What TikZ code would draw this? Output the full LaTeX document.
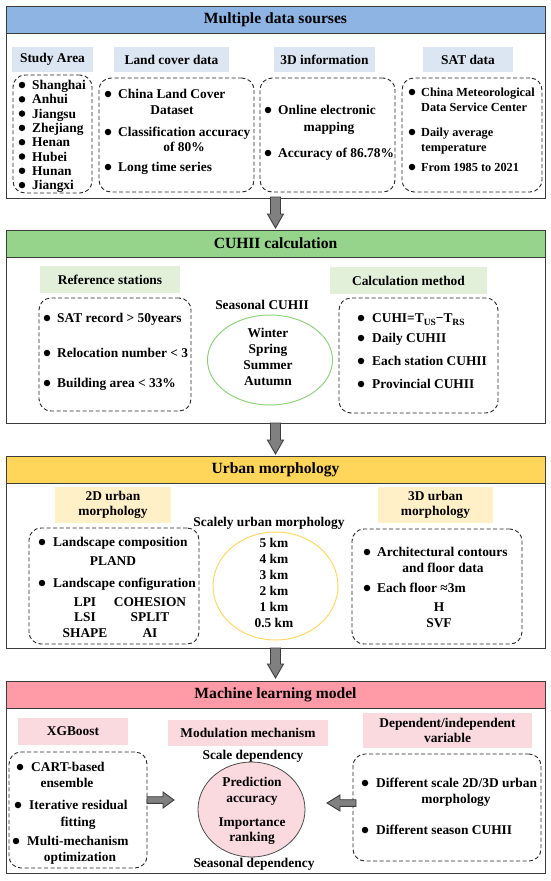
\documentclass[tikz,border=0pt]{standalone}
\usepackage{fontspec}
\setmainfont{Liberation Serif}
\usetikzlibrary{shapes.geometric,calc}
\definecolor{hdrblue}{RGB}{142,180,227}
\definecolor{subblue}{RGB}{220,230,242}
\definecolor{hdrgreen}{RGB}{150,212,140}
\definecolor{subgreen}{RGB}{226,240,217}
\definecolor{hdryellow}{RGB}{255,214,89}
\definecolor{subyellow}{RGB}{255,240,200}
\definecolor{hdrpink}{RGB}{255,154,166}
\definecolor{subpink}{RGB}{250,218,222}
\definecolor{ellgreen}{RGB}{146,208,128}
\definecolor{ellyellow}{RGB}{255,217,102}
\definecolor{circpink}{RGB}{250,218,222}
\definecolor{edge}{RGB}{60,60,60}
\definecolor{arrowfill}{RGB}{128,128,128}
\newcommand\boxnode[7]{%
  \pgfmathsetmacro\myrw{#5-#3}\pgfmathsetmacro\myrh{#6-#4}%
  \pgfmathsetmacro\myrcx{(#3+#5)/2}\pgfmathsetmacro\myrcy{(#4+#6)/2}%
  \node[#1, minimum width=\myrw pt, minimum height=\myrh pt] (#2) at (\myrcx,\myrcy) {#7};}
\newcommand\tlft[4]{\node[txt, anchor=base west] (#1) at (#2,#3+4.5) {#4};}
\newcommand\tctr[4]{\node[txt, anchor=base] (#1) at (#2,#3+4.5) {#4};}
\newcommand\slft[4]{\node[stxt, anchor=base west] (#1) at (#2,#3+4.2) {#4};}
\newcommand\bdot[3]{\node[bdotstyle] (#1) at (#2,#3) {};}
% down block arrow: cx, y-start, y-tip
\newcommand\downblock[3]{\draw[blockarrow] (#1-5,#2) -- (#1+5,#2) -- (#1+5,#3-14) -- (#1+8,#3-14) -- (#1,#3) -- (#1-8,#3-14) -- (#1-5,#3-14) -- cycle;}
\begin{document}
\begin{tikzpicture}[x=1pt,y=-1pt,
  txt/.style={font=\bfseries\fontsize{13.4}{16}\selectfont, inner sep=0pt},
  stxt/.style={font=\bfseries\fontsize{12.3}{15}\selectfont, inner sep=0pt},
  sec/.style={draw=edge, fill=white, line width=1pt, inner sep=0pt},
  hdr/.style={draw=edge, line width=1pt, inner sep=0pt, font=\bfseries\fontsize{15.6}{18}\selectfont},
  sub/.style={inner sep=0pt, font=\bfseries\fontsize{13.4}{15.5}\selectfont},
  dbox/.style={draw=black!85, line width=0.9pt, dash pattern=on 4pt off 2.5pt, rounded corners=12pt, inner sep=0pt},
  bdotstyle/.style={circle, fill=black, minimum size=6.5pt, inner sep=0pt},
  blockarrow/.style={draw=edge, fill=arrowfill, line width=0.9pt, line join=miter}
]
\fill[white] (0,0) rectangle (550,881);
\useasboundingbox (0,0) rectangle (550,881);

% ---------- Section 1 ----------
\boxnode{sec}{s1}{6}{6}{545}{198}{}
\boxnode{hdr,fill=hdrblue}{h1}{6}{6}{545}{33}{Multiple data sourses}
\boxnode{sub,fill=subblue}{sa}{12}{47}{93}{72}{Study Area}
\boxnode{sub,fill=subblue}{lc}{114}{47}{229}{72}{Land cover data}
\boxnode{sub,fill=subblue}{td}{274}{47}{375}{72}{3D information}
\boxnode{sub,fill=subblue}{sat}{423}{47}{513}{72}{SAT data}
\boxnode{dbox}{d1a}{13}{75}{92}{193}{}
\boxnode{dbox}{d1b}{99}{78}{254}{192}{}
\boxnode{dbox}{d1c}{260}{78}{395}{192}{}
\boxnode{dbox}{d1d}{402}{78}{542}{192}{}
\bdot{b11}{22}{85}\tlft{t11}{32}{85}{Shanghai}
\bdot{b12}{22}{99.3}\tlft{t12}{32}{99.3}{Anhui}
\bdot{b13}{22}{113.6}\tlft{t13}{32}{113.6}{Jiangsu}
\bdot{b14}{22}{127.9}\tlft{t14}{32}{127.9}{Zhejiang}
\bdot{b15}{22}{142.2}\tlft{t15}{32}{142.2}{Henan}
\bdot{b16}{22}{156.5}\tlft{t16}{32}{156.5}{Hubei}
\bdot{b17}{22}{170.8}\tlft{t17}{32}{170.8}{Hunan}
\bdot{b18}{22}{185.1}\tlft{t18}{32}{185.1}{Jiangxi}

\bdot{b21}{108}{94}\tlft{t21}{118}{94}{China Land Cover}
\tctr{t22}{172}{110}{Dataset}
\bdot{b23}{108}{132}\tlft{t23}{118}{132}{Classification accuracy}
\tctr{t24}{184}{147}{of 80\%}
\bdot{b25}{108}{167}\tlft{t25}{118}{167}{Long time series}

\bdot{b31}{268}{110}\tlft{t31}{278}{110}{Online electronic}
\tctr{t32}{329}{127}{mapping}
\bdot{b33}{268}{153}\tlft{t33}{278}{153}{Accuracy of 86.78\%}

\bdot{b41}{412}{92}\slft{t41}{421}{92}{China Meteorological}
\slft{t42}{421}{107}{Data Service Center}
\bdot{b43}{412}{132}\slft{t43}{421}{132}{Daily average}
\slft{t44}{421}{147}{temperature}
\bdot{b45}{412}{167}\slft{t45}{421}{167}{From 1985 to 2021}

% ---------- Section 2 ----------
\boxnode{sec}{s2}{6}{230}{545}{423}{}
\boxnode{hdr,fill=hdrgreen}{h2}{6}{230}{545}{257}{CUHII calculation}
\boxnode{sub,fill=subgreen}{rs}{40}{266}{180}{293}{Reference stations}
\boxnode{dbox}{d2a}{39}{298}{191}{411}{}
\bdot{b51}{47}{318}\tlft{t51}{57}{318}{SAT record > 50years}
\bdot{b52}{47}{353}\tlft{t52}{57}{353}{Relocation number < 3}
\bdot{b53}{47}{383}\tlft{t53}{57}{383}{Building area < 33\%}

\tctr{sc}{262}{305}{Seasonal CUHII}
\node[ellipse, draw=ellgreen, line width=1pt, minimum width=125pt, minimum height=90pt, inner sep=0pt] (e1) at (270,360) {};
\tctr{w1}{268}{332.5}{Winter}
\tctr{w2}{268}{348.8}{Spring}
\tctr{w3}{268}{365.1}{Summer}
\tctr{w4}{268}{381.4}{Autumn}

\boxnode{sub,fill=subgreen}{cm}{330}{267}{487}{294}{Calculation method}
\boxnode{dbox}{d2b}{339}{298}{498}{413}{}
\bdot{b61}{361}{318}\tlft{t61}{372}{318}{CUHI=T\raisebox{-2.5pt}{\fontsize{9.5}{10}\selectfont US}−T\raisebox{-2.5pt}{\fontsize{9.5}{10}\selectfont RS}}
\bdot{b62}{361}{338}\tlft{t62}{372}{338}{Daily CUHII}
\bdot{b63}{361}{361}\tlft{t63}{372}{361}{Each station CUHII}
\bdot{b64}{361}{384}\tlft{t64}{372}{384}{Provincial CUHII}

% ---------- Section 3 ----------
\boxnode{sec}{s3}{6}{456}{545}{648}{}
\boxnode{hdr,fill=hdryellow}{h3}{6}{456}{545}{483}{Urban morphology}
\boxnode{sub,fill=subyellow,align=center}{m2}{55}{487}{171}{523}{2D urban\\morphology}
\boxnode{dbox}{d3a}{29}{528}{199}{644}{}
\bdot{b71}{42}{542}\tlft{t71}{53}{542}{Landscape composition}
\tctr{t72}{113}{561}{PLAND}
\bdot{b73}{42}{583}\tlft{t73}{53}{583}{Landscape configuration}
\tctr{t74}{85}{602}{LPI}\tctr{t75}{150}{602}{COHESION}
\tctr{t76}{85}{617}{LSI}\tctr{t77}{150}{617}{SPLIT}
\tctr{t78}{85}{633}{SHAPE}\tctr{t79}{150}{633}{AI}

\tctr{sum}{269}{522}{Scalely urban morphology}
\node[ellipse, draw=ellyellow, line width=1pt, minimum width=125pt, minimum height=108pt, inner sep=0pt] (e2) at (275.5,586) {};
\tctr{k1}{274}{543}{5 km}
\tctr{k2}{274}{559}{4 km}
\tctr{k3}{274}{575}{3 km}
\tctr{k4}{274}{591}{2 km}
\tctr{k5}{274}{607}{1 km}
\tctr{k6}{274}{623}{0.5 km}

\boxnode{sub,fill=subyellow,align=center}{m3}{378}{487}{493}{523}{3D urban\\morphology}
\boxnode{dbox}{d3b}{352}{529}{522}{644}{}
\bdot{b81}{367}{552}\tlft{t81}{377}{552}{Architectural contours}
\tctr{t82}{443}{568}{and floor data}
\bdot{b83}{367}{588}\tlft{t83}{377}{588}{Each floor ≈3m}
\tctr{t84}{439}{607}{H}
\tctr{t85}{439}{623}{SVF}

% ---------- Section 4 ----------
\boxnode{sec}{s4}{6}{681}{545}{873}{}
\boxnode{hdr,fill=hdrpink}{h4}{6}{681}{545}{708}{Machine learning model}
\boxnode{sub,fill=subpink}{xg}{18}{718}{128}{745}{XGBoost}
\boxnode{dbox}{d4a}{9}{752}{147}{868}{}
\bdot{b91}{20}{767}\tlft{t91}{31}{767}{CART-based}
\tctr{t92}{67}{783}{ensemble}
\bdot{b93}{18}{805}\tlft{t93}{29}{805}{Iterative residual}
\tctr{t94}{78}{822}{fitting}
\bdot{b95}{16}{841}\tlft{t95}{27}{841}{Multi-mechanism}
\tctr{t96}{80}{857}{optimization}

\boxnode{sub,fill=subpink}{mm}{168}{720}{328}{746}{Modulation mechanism}
\tctr{sd}{253}{755}{Scale dependency}
\node[ellipse, draw=black!70, fill=circpink, line width=0.8pt, minimum width=107pt, minimum height=95pt, inner sep=0pt] (c4) at (251.5,809.5) {};
\tctr{p1}{252}{782}{Prediction}
\tctr{p2}{252}{798}{accuracy}
\tctr{p3}{252}{822}{Importance}
\tctr{p4}{252}{837}{ranking}
\tctr{sdd}{254}{863}{Seasonal dependency}

\boxnode{sub,fill=subpink,align=center}{dv}{363}{713}{532}{748}{Dependent/independent\\variable}
\boxnode{dbox}{d4b}{353}{754}{541}{861}{}
\bdot{ba1}{365}{783}\tlft{ta1}{376}{783}{Different scale 2D/3D urban}
\tctr{ta2}{456}{799}{morphology}
\bdot{ba3}{365}{830}\tlft{ta3}{376}{830}{Different season CUHII}

% ---------- Arrows ----------
\downblock{275.5}{197}{228}
\downblock{275.5}{423}{454}
\downblock{275.5}{648}{678}
\draw[blockarrow] (147,796.7) -- (163,796.7) -- (163,792) -- (174,800) -- (163,808) -- (163,803.3) -- (147,803.3) -- cycle;
\draw[blockarrow] (356,799.7) -- (340,799.7) -- (340,795) -- (327,803) -- (340,811) -- (340,806.3) -- (356,806.3) -- cycle;
\end{tikzpicture}
\end{document}
